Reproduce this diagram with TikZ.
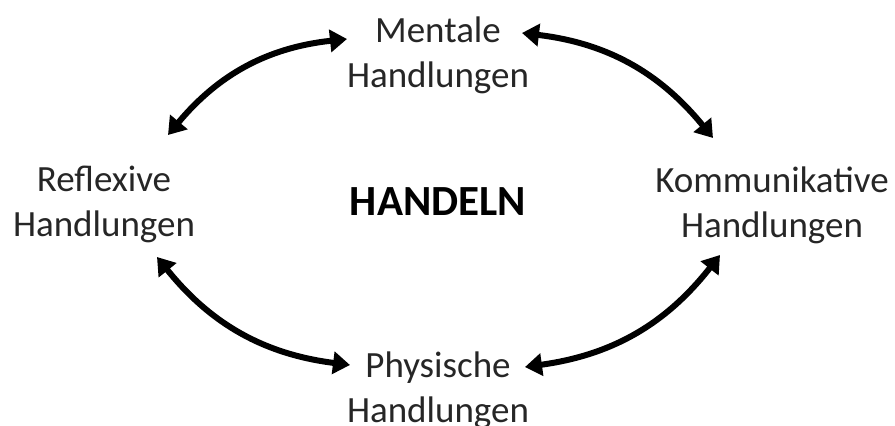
\documentclass[tikz,border=0pt]{standalone}
\usepackage{fontspec}
\setmainfont{Carlito}
\usetikzlibrary{arrows.meta}
\begin{document}
\begin{tikzpicture}[x=1pt,y=1pt,
  lbl/.style={align=center,font=\fontsize{37}{45}\selectfont,text=black!85,inner sep=0pt},
  title/.style={font=\fontsize{43}{50}\selectfont\bfseries,inner sep=0pt},
  dbl/.style={line width=6pt,{Triangle[length=17pt,width=22pt]}-{Triangle[length=17pt,width=22pt]},bend left=22}]
\useasboundingbox (0,0) rectangle (895,426);
\node[lbl] (M) at (438,371) {Mentale\\Handlungen};
\node[lbl] (R) at (104,222) {Reflexive\\Handlungen};
\node[lbl] (K) at (772,221) {Kommunikative\\Handlungen};
\node[lbl] (P) at (438,36) {Physische\\Handlungen};
\node[title] (H) at (438,224) {HANDELN};
\coordinate (rm) at (168,291);
\coordinate (mr) at (347,387);
\coordinate (ml) at (522,393);
\coordinate (km) at (713,288);
\coordinate (kp) at (720,171);
\coordinate (pk) at (525,59);
\coordinate (pr) at (350,61);
\coordinate (rp) at (157,169);
\draw[dbl] (rm) to (mr);
\draw[dbl] (ml) to (km);
\draw[dbl] (kp) to (pk);
\draw[dbl] (pr) to (rp);
\end{tikzpicture}
\end{document}
